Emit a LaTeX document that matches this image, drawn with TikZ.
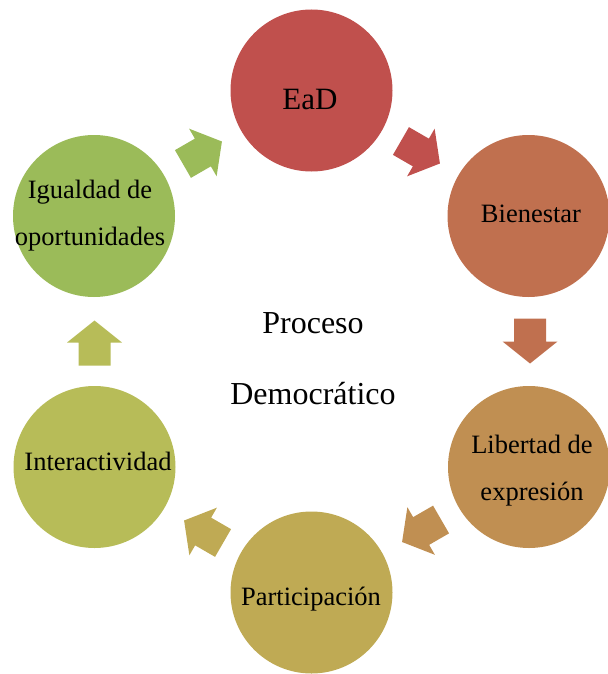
\documentclass[tikz,border=0pt]{standalone}
\usepackage{fontspec}
\setmainfont{Liberation Serif}
\usepackage{tikz}
\definecolor{cEaD}{HTML}{C0504D}
\definecolor{cBien}{HTML}{C0704F}
\definecolor{cLib}{HTML}{C08F52}
\definecolor{cPart}{HTML}{BFAA54}
\definecolor{cInter}{HTML}{B7BC58}
\definecolor{cIgual}{HTML}{9BBB59}

\begin{document}
\begin{tikzpicture}[x=0.5pt, y=-0.5pt,
    bubble/.style={circle, minimum size=81pt, inner sep=0pt},
    lbl/.style={font=\fontsize{13.25}{23.5}\selectfont, align=center, anchor=base}]
    \useasboundingbox (0,0) rectangle (608,674);

    \node[bubble, fill=cEaD]   (ead)   at (311.5,90.5)  {};
    \node[bubble, fill=cBien]  (bien)  at (528.5,216)   {};
    \node[bubble, fill=cLib]   (lib)   at (529,467)     {};
    \node[bubble, fill=cPart]  (part)  at (311.5,592.5) {};
    \node[bubble, fill=cInter] (inter) at (94.5,467)    {};
    \node[bubble, fill=cIgual] (igual) at (94,216)      {};

    \fill[cEaD,   shift={(420,152)},   rotate=-30]  (-22,-16) -- (1,-16) -- (1,-27.5) -- (23,0) -- (1,27.5) -- (1,16) -- (-22,16) -- cycle;
    \fill[cBien,  shift={(530,340.5)}, rotate=-90]  (-22,-16) -- (1,-16) -- (1,-27.5) -- (23,0) -- (1,27.5) -- (1,16) -- (-22,16) -- cycle;
    \fill[cLib,   shift={(422,530.5)}, rotate=-150] (-22,-16) -- (1,-16) -- (1,-27.5) -- (23,0) -- (1,27.5) -- (1,16) -- (-22,16) -- cycle;
    \fill[cPart,  shift={(204,532)},   rotate=150]  (-22,-16) -- (1,-16) -- (1,-27.5) -- (23,0) -- (1,27.5) -- (1,16) -- (-22,16) -- cycle;
    \fill[cInter, shift={(94.5,343.5)},rotate=90]   (-22,-16) -- (1,-16) -- (1,-27.5) -- (23,0) -- (1,27.5) -- (1,16) -- (-22,16) -- cycle;
    \fill[cIgual, shift={(202,153)},   rotate=30]   (-22,-16) -- (1,-16) -- (1,-27.5) -- (23,0) -- (1,27.5) -- (1,16) -- (-22,16) -- cycle;

    \node[lbl, font=\fontsize{15.5}{18}\selectfont] (ead-t) at (310,110) {EaD};
    \node[lbl] (bien-t)  at (531,222) {Bienestar};
    \node[lbl] (lib-t)   at (532,500) {Libertad de\\expresión};
    \node[lbl] (part-t)  at (311,605) {Participación};
    \node[lbl] (inter-t) at (98,470)  {Interactividad};
    \node[lbl] (igual-t) at (90,245)  {Igualdad de\\oportunidades};

    \node[lbl, font=\fontsize{16}{35.5}\selectfont] (proc) at (313,404) {Proceso\\Democrático};
\end{tikzpicture}
\end{document}
